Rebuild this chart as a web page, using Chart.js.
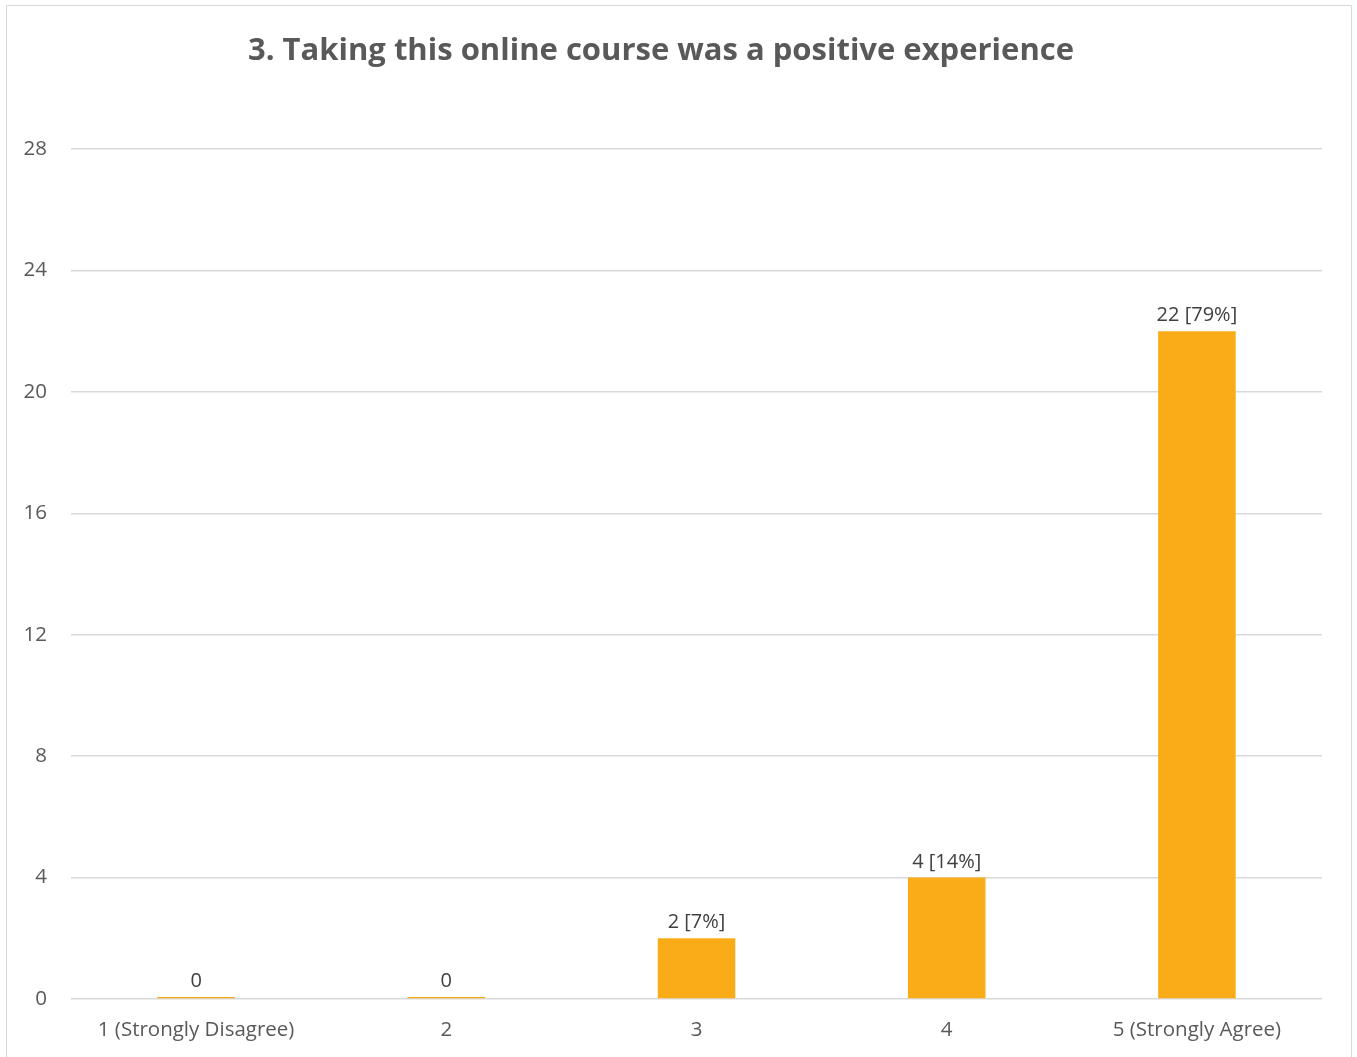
<!DOCTYPE html>
<html>
<head>
<meta charset="utf-8">
<script src="https://cdn.jsdelivr.net/npm/chart.js@4.4.0/dist/chart.umd.min.js"></script>
<style>
  html, body { margin: 0; padding: 0; background: #ffffff; }
  #wrap { position: relative; width: 1357px; height: 1057px; overflow: hidden; }
  #frame { position: absolute; left: 6px; top: 5px; width: 1344px; height: 1100px; border: 1px solid #d9d9d9; pointer-events: none; }
  canvas { position: absolute; left: 0; top: 0; }
</style>
</head>
<body>
<div id="wrap">
  <canvas id="c" width="1357" height="1057"></canvas>
  <div id="frame"></div>
</div>
<script>
const chartTitle = "3. Taking this online course was a positive experience";
const categories = ["1 (Strongly Disagree)", "2", "3", "4", "5 (Strongly Agree)"];
const counts = [0, 0, 2, 4, 22];
const valueLabels = ["0", "0", "2 [7%]", "4 [14%]", "22 [79%]"];
const yTicks = [0, 4, 8, 12, 16, 20, 24, 28];

const FONT = "'Open Sans', 'DejaVu Sans', sans-serif";

const barLabelPlugin = {
  id: 'barLabels',
  afterDatasetsDraw(chart) {
    const ctx = chart.ctx;
    const meta = chart.getDatasetMeta(0);
    ctx.save();
    ctx.font = "20px " + FONT;
    ctx.fillStyle = "#404040";
    ctx.textAlign = "center";
    ctx.textBaseline = "alphabetic";
    meta.data.forEach((bar, i) => {
      ctx.fillText(valueLabels[i], bar.x, bar.y - 10);
    });
    ctx.restore();
  }
};

new Chart(document.getElementById('c'), {
  type: 'bar',
  data: {
    labels: categories,
    datasets: [{
      data: counts,
      backgroundColor: '#FAAC18',
      borderWidth: 0,
      minBarLength: 2,
      categoryPercentage: 1.0,
      barPercentage: 0.31
    }]
  },
  options: {
    responsive: false,
    animation: false,
    devicePixelRatio: 1,
    layout: { padding: { left: 0, right: 35, top: 0, bottom: 14 } },
    plugins: {
      legend: { display: false },
      tooltip: { enabled: false },
      title: {
        display: true,
        text: chartTitle,
        color: '#595959',
        font: { family: FONT, size: 31, weight: 'bold', lineHeight: 1.2 },
        padding: { top: 33, bottom: 79 }
      }
    },
    scales: {
      x: {
        afterFit(scale) { scale.height = 44; },
        grid: { display: false, drawTicks: false },
        border: { display: false },
        ticks: {
          color: '#595959',
          font: { family: FONT, size: 20.5 },
          padding: 19,
          maxRotation: 0,
          autoSkip: false
        }
      },
      y: {
        min: 0,
        max: 28,
        afterBuildTicks(scale) { scale.ticks = yTicks.map(v => ({ value: v })); },
        afterFit(scale) { scale.width = 71; },
        grid: { color: '#d9d9d9', lineWidth: 1.5, drawTicks: false },
        border: { display: false },
        ticks: {
          color: '#595959',
          font: { family: FONT, size: 20.5 },
          padding: 24
        }
      }
    }
  },
  plugins: [barLabelPlugin]
});
</script>
</body>
</html>
